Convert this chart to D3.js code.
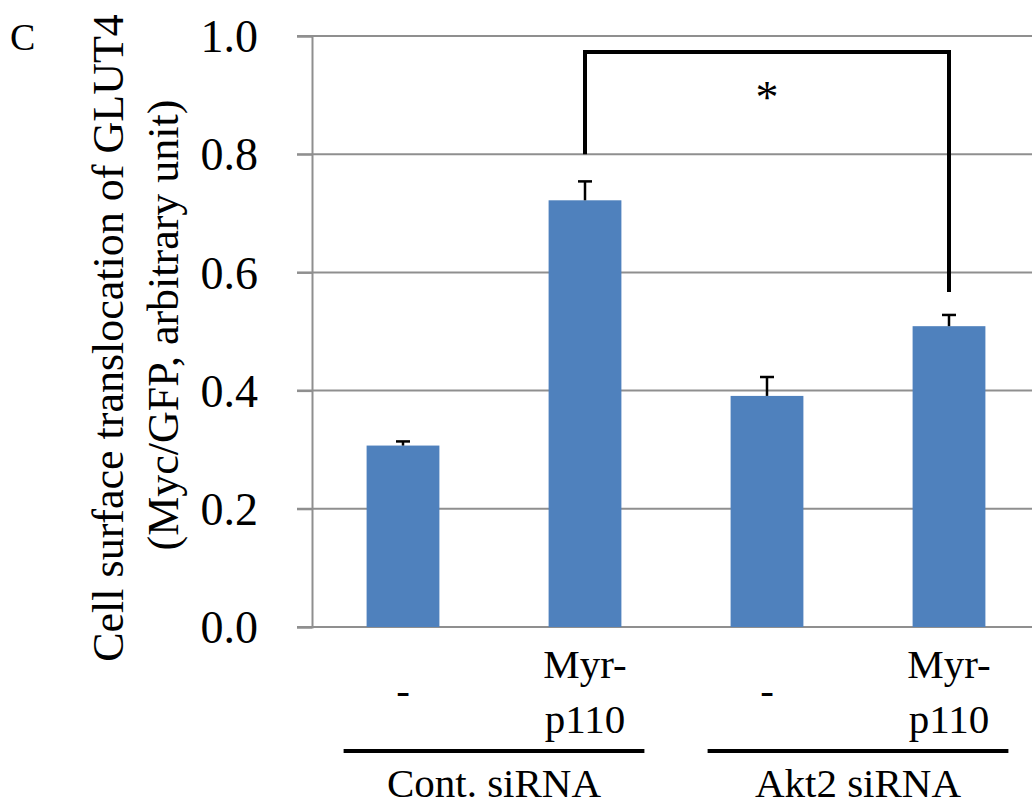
<!DOCTYPE html>
<html>
<head>
<meta charset="utf-8">
<script src="https://cdn.jsdelivr.net/npm/d3@7"></script>
</head>
<body style="margin:0;padding:0;background:#ffffff">
<svg id="chart" width="1032" height="805" style="display:block" font-family="Liberation Serif"></svg>
<script>
// ---- data ----
const categories = ["Cont-none", "Cont-Myr", "Akt2-none", "Akt2-Myr"];
const treatmentLabels = [["-"], ["Myr-", "p110"], ["-"], ["Myr-", "p110"]];
const values = [0.307, 0.722, 0.391, 0.509];
const errors = [0.007, 0.032, 0.032, 0.019];
const groups = ["Cont. siRNA", "Akt2 siRNA"];
const groupMembers = [["Cont-none", "Cont-Myr"], ["Akt2-none", "Akt2-Myr"]];
const yTicks = [0.0, 0.2, 0.4, 0.6, 0.8, 1.0];
const yTitle = ["Cell surface translocation of GLUT4", "(Myc/GFP, arbitrary unit)"];
const panelLabel = "C";
const bracketFrom = "Cont-Myr", bracketTo = "Akt2-Myr";
const bracketTop = 0.973, bracketLeftEnd = 0.80, bracketRightEnd = 0.567;
const sigMark = "*";

// ---- layout ----
const svg = d3.select("#chart");
const axisX = 312, plotTop = 36, plotBottom = 627, step = 182;
const y = d3.scaleLinear().domain([0, 1]).range([plotBottom, plotTop]);
const x = d3.scaleBand().domain(categories)
  .range([axisX, axisX + step * categories.length])
  .paddingInner(0.6).paddingOuter(0.3);
const gridColor = "#8f8f8f";

function addText(parent, size) {
  return parent.append("text")
    .attr("style", "font-family:'Liberation Serif';font-size:" + size + "px")
    .attr("fill", "#000");
}

// gridlines
svg.append("g").selectAll("line").data(yTicks).join("line")
  .attr("x1", axisX - 15).attr("x2", 1040)
  .attr("y1", d => y(d)).attr("y2", d => y(d))
  .attr("stroke", gridColor).attr("stroke-width", 2);

// y axis
const yAxis = d3.axisLeft(y).tickValues(yTicks).tickFormat(d3.format(".1f"))
  .tickSize(15).tickPadding(39);
const gy = svg.append("g").attr("transform", `translate(${axisX},0)`).call(yAxis);
gy.attr("font-family", null).attr("font-size", null);
gy.select(".domain").attr("stroke", gridColor).attr("stroke-width", 2);
gy.selectAll(".tick line").attr("stroke", gridColor).attr("stroke-width", 2);
gy.selectAll(".tick text")
  .attr("style", "font-family:'Liberation Serif';font-size:46px")
  .attr("fill", "#000").attr("dy", "0.34em");

// bars
svg.append("g").selectAll("rect").data(categories).join("rect")
  .attr("x", d => x(d)).attr("width", x.bandwidth())
  .attr("y", (d, i) => y(values[i]))
  .attr("height", (d, i) => y(0) - y(values[i]))
  .attr("fill", "#4f81bd");

// error bars (upper only)
const eb = svg.append("g").attr("stroke", "#000").attr("stroke-width", 2.5);
categories.forEach((c, i) => {
  const cx = x(c) + x.bandwidth() / 2;
  eb.append("line").attr("x1", cx).attr("x2", cx)
    .attr("y1", y(values[i])).attr("y2", y(values[i] + errors[i]));
  eb.append("line").attr("x1", cx - 7).attr("x2", cx + 7)
    .attr("y1", y(values[i] + errors[i])).attr("y2", y(values[i] + errors[i]));
});

// significance bracket
const bx1 = x(bracketFrom) + x.bandwidth() / 2, bx2 = x(bracketTo) + x.bandwidth() / 2;
svg.append("path")
  .attr("d", `M${bx1},${y(bracketLeftEnd)}V${y(bracketTop)}H${bx2}V${y(bracketRightEnd)}`)
  .attr("fill", "none").attr("stroke", "#000").attr("stroke-width", 4);
addText(svg, 46).attr("x", x("Akt2-none") + x.bandwidth() / 2)
  .attr("y", 113).attr("text-anchor", "middle").text(sigMark);

// x category labels
categories.forEach((c, i) => {
  const cx = x(c) + x.bandwidth() / 2;
  const lines = treatmentLabels[i];
  if (lines.length === 1) {
    addText(svg, 41).attr("text-anchor", "middle").attr("x", cx).attr("y", 704).text(lines[0]);
  } else {
    lines.forEach((l, j) => addText(svg, 41).attr("text-anchor", "middle")
      .attr("x", cx).attr("y", 678 + j * 55).text(l));
  }
});

// group lines and labels
groups.forEach((g, gi) => {
  const m = groupMembers[gi];
  const x1 = x(m[0]) - 23, x2 = Math.min(x(m[m.length - 1]) + x.bandwidth() + 23, 1024);
  svg.append("line").attr("x1", x1).attr("x2", x2)
    .attr("y1", 751).attr("y2", 751).attr("stroke", "#000").attr("stroke-width", 4);
  addText(svg, 41).attr("x", (x1 + x2) / 2).attr("y", 797)
    .attr("text-anchor", "middle").text(g);
});

// y title
addText(svg, 44).attr("transform", "translate(123,338) rotate(-90)")
  .attr("text-anchor", "middle").text(yTitle[0]);
addText(svg, 44).attr("transform", "translate(178,325) rotate(-90)")
  .attr("text-anchor", "middle").text(yTitle[1]);

// panel label
addText(svg, 38).attr("x", 10).attr("y", 50).text(panelLabel);
</script>
</body>
</html>
